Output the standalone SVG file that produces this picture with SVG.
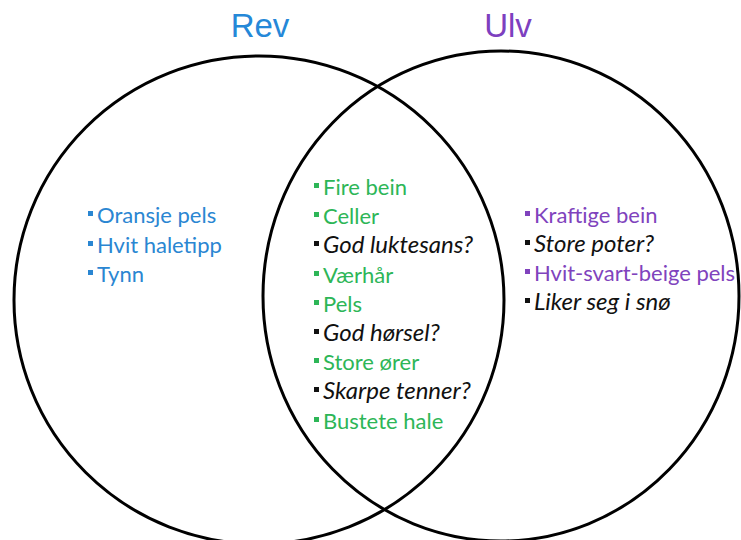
<svg xmlns="http://www.w3.org/2000/svg" width="741" height="540" viewBox="0 0 741 540">
<style>
.ring{fill:none;stroke:#000;stroke-width:3}
.title{font-family:"Liberation Sans",Arial,sans-serif;font-size:33px}
.t{font-family:Lato,"Open Sans",sans-serif;font-size:22px}
.q{font-style:italic;fill:#111;font-size:24px}
.blue{fill:#2a86d2}
.green{fill:#2db657}
.purple{fill:#8043bd}
.black{fill:#111}
</style>
<rect width="741" height="540" fill="#fff"/>
<g id="circles">
<ellipse id="rev-circle" class="ring" cx="259" cy="300" rx="245" ry="244"/>
<ellipse id="ulv-circle" class="ring" cx="501" cy="296" rx="238" ry="245"/>
</g>
<g id="titles">
<text id="rev-title" class="title" x="260" y="37" text-anchor="middle" fill="#2588d8">Rev</text>
<text id="ulv-title" class="title" x="508" y="37" text-anchor="middle" fill="#7d40bf">Ulv</text>
</g>
<g id="rev-items">
<rect class="blue" x="88" y="211" width="5" height="5"/><text class="t blue" x="97" y="223">Oransje pels</text>
<rect class="blue" x="88" y="241" width="5" height="5"/><text class="t blue" x="97" y="253">Hvit haletipp</text>
<rect class="blue" x="88" y="270" width="5" height="5"/><text class="t blue" x="97" y="282">Tynn</text>
</g>
<g id="shared-items">
<rect class="green" x="314" y="183" width="5" height="5"/><text class="t green" x="323" y="195">Fire bein</text>
<rect class="green" x="314" y="212" width="5" height="5"/><text class="t green" x="323" y="224">Celler</text>
<rect class="black" x="314" y="241" width="5" height="5"/><text class="t q" x="323" y="253">God luktesans?</text>
<rect class="green" x="314" y="271" width="5" height="5"/><text class="t green" x="323" y="283">Værhår</text>
<rect class="green" x="314" y="300" width="5" height="5"/><text class="t green" x="323" y="312">Pels</text>
<rect class="black" x="314" y="329" width="5" height="5"/><text class="t q" x="323" y="341">God hørsel?</text>
<rect class="green" x="314" y="358" width="5" height="5"/><text class="t green" x="323" y="370">Store ører</text>
<rect class="black" x="314" y="387" width="5" height="5"/><text class="t q" x="323" y="399">Skarpe tenner?</text>
<rect class="green" x="314" y="417" width="5" height="5"/><text class="t green" x="323" y="429">Bustete hale</text>
</g>
<g id="ulv-items">
<rect class="purple" x="525" y="211" width="5" height="5"/><text class="t purple" x="534" y="223">Kraftige bein</text>
<rect class="black" x="525" y="240" width="5" height="5"/><text class="t q" x="534" y="252">Store poter?</text>
<rect class="purple" x="525" y="269" width="5" height="5"/><text class="t purple" x="534" y="281">Hvit-svart-beige pels</text>
<rect class="black" x="525" y="298" width="5" height="5"/><text class="t q" x="534" y="310">Liker seg i snø</text>
</g>
</svg>
